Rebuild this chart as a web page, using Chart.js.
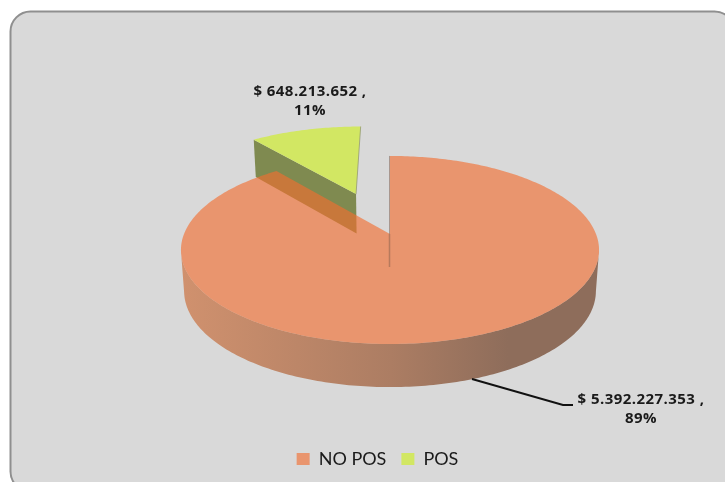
<!DOCTYPE html>
<html><head><meta charset="utf-8">
<style>html,body{margin:0;padding:0;background:#fff}canvas{display:block}</style>
<script src="https://cdn.jsdelivr.net/npm/chart.js@4"></script></head>
<body><canvas id="c" width="725" height="482"></canvas>
<script>
const categories = ['NO POS', 'POS'];
const amounts = [5392227353, 648213652];
const sliceColors = ['#E9956E', '#D2E763'];
const labelSpots = [[641, 400], [310, 92]];

const CX = 390, CY = 234, R = 206, S = 91.3, K = 0.17;
const TOP_GLAZE = 'rgba(242,109,47,0.63)';
const EXPLODE = [[0, 0], [-0.178, 0.472]];

function depth(v) { return 40.5 - 2.6 * v; }
function proj(u, v, low) {
  const w = 1 + K * v;
  const nar = low ? 0.985 : 1;
  return [CX + nar * R * u / w, CY - S * v / w + (low ? depth(v) : 0)];
}
function pt(a, off, low, r) {
  r = r === undefined ? 1 : r;
  return proj(r * Math.cos(a) + off[0], -r * Math.sin(a) + off[1], low);
}
function path(ctx, pts) {
  ctx.beginPath();
  pts.forEach((p, i) => i ? ctx.lineTo(p[0], p[1]) : ctx.moveTo(p[0], p[1]));
  ctx.closePath();
}
function rimAngles(a0, a1) {
  const n = Math.ceil(Math.abs(a1 - a0) * 60), out = [];
  for (let i = 0; i <= n; i++) out.push(a0 + (a1 - a0) * i / n);
  return out;
}
function money(n) { return '$ ' + String(n).replace(/\B(?=(\d{3})+(?!\d))/g, '.') + ' ,'; }

const panel = {
  id: 'panel',
  beforeDraw(chart) {
    const ctx = chart.ctx;
    ctx.save();
    ctx.beginPath();
    ctx.roundRect(10.5, 11.5, 724, 480, 20);
    ctx.fillStyle = '#d9d9d9';
    ctx.fill();
    ctx.lineWidth = 2;
    ctx.strokeStyle = '#8f8f8f';
    ctx.stroke();
    ctx.restore();
  }
};

const pie3d = {
  id: 'pie3d',
  beforeDatasetsDraw(chart) {
    const ctx = chart.ctx;
    const arcs = chart.getDatasetMeta(0).data;
    const total = amounts.reduce((a, b) => a + b, 0);
    ctx.save();

    // exploded slice, behind the main body
    const pos = arcs[1], off = EXPLODE[1];
    const a0 = pos.startAngle, a1 = pos.endAngle;
    path(ctx, [pt(a0, off, false, 1), pt(a0, off, false, 0), pt(a0, off, true, 0), pt(a0, off, true, 1)]);
    ctx.fillStyle = '#7f8a50';
    ctx.fill();
    path(ctx, [pt(a0, off, false, 0)].concat(rimAngles(a0, a1).map(a => pt(a, off, false))));
    ctx.fillStyle = sliceColors[1];
    ctx.fill();
    const t0 = pt(a1, off, false, 1), t1 = pt(a1, off, false, 0);
    ctx.strokeStyle = 'rgba(140,145,110,0.7)';
    ctx.lineWidth = 1;
    ctx.beginPath(); ctx.moveTo(t0[0], t0[1]); ctx.lineTo(t1[0], t1[1]); ctx.stroke();

    // main body: outer wall along the front
    const main = arcs[0], o0 = EXPLODE[0];
    const front = rimAngles(main.startAngle, main.endAngle).filter(a => -Math.sin(a) <= -K);
    const wall = front.map(a => pt(a, o0, false)).concat(front.slice().reverse().map(a => pt(a, o0, true)));
    path(ctx, wall);
    const g = ctx.createLinearGradient(182, 0, 600, 0);
    g.addColorStop(0, '#d0916e');
    g.addColorStop(0.5, '#ac7d63');
    g.addColorStop(0.78, '#8e6d5b');
    g.addColorStop(1, '#8e6d5b');
    ctx.fillStyle = g;
    ctx.fill();

    // main body: glazed top
    path(ctx, [pt(main.startAngle, o0, false, 0)].concat(rimAngles(main.startAngle, main.endAngle).map(a => pt(a, o0, false))));
    ctx.fillStyle = TOP_GLAZE;
    ctx.fill();

    // cut edge of the main body
    const c = pt(main.startAngle, o0, false, 0), e = pt(main.startAngle, o0, false, 1);
    ctx.strokeStyle = 'rgba(120,85,70,0.5)';
    ctx.lineWidth = 1;
    ctx.beginPath(); ctx.moveTo(e[0] - 0.5, e[1]); ctx.lineTo(c[0] - 0.5, c[1]); ctx.stroke();
    ctx.strokeStyle = 'rgba(150,105,80,0.6)';
    ctx.lineWidth = 1.5;
    ctx.beginPath(); ctx.moveTo(c[0] - 0.5, c[1]); ctx.lineTo(c[0] - 0.5, c[1] + 33); ctx.stroke();

    // leader
    ctx.strokeStyle = '#111';
    ctx.lineWidth = 2;
    ctx.beginPath(); ctx.moveTo(472, 379); ctx.lineTo(563, 405); ctx.lineTo(573, 405); ctx.stroke();

    // data labels
    ctx.fillStyle = '#1a1a1a';
    ctx.font = 'bold 15px "Open Sans"';
    ctx.letterSpacing = '0.45px';
    ctx.textAlign = 'center';
    ctx.textBaseline = 'middle';
    amounts.forEach((v, i) => {
      const [x, y] = labelSpots[i];
      ctx.fillText(money(v), x, y);
      ctx.fillText(Math.round(v / total * 100) + '%', x, y + 19);
    });
    ctx.restore();
    return false;
  }
};

new Chart(document.getElementById('c'), {
  type: 'pie',
  data: { labels: categories, datasets: [{ data: amounts, backgroundColor: sliceColors, borderWidth: 0 }] },
  plugins: [panel, pie3d],
  options: {
    responsive: false,
    animation: false,
    layout: { padding: { left: 30, bottom: 4 } },
    plugins: {
      tooltip: { enabled: false },
      legend: {
        position: 'bottom',
        labels: { boxWidth: 13, boxHeight: 12, padding: 15, color: '#1a1a1a', font: { family: 'Lato', size: 18 } }
      }
    }
  }
});
</script></body></html>
